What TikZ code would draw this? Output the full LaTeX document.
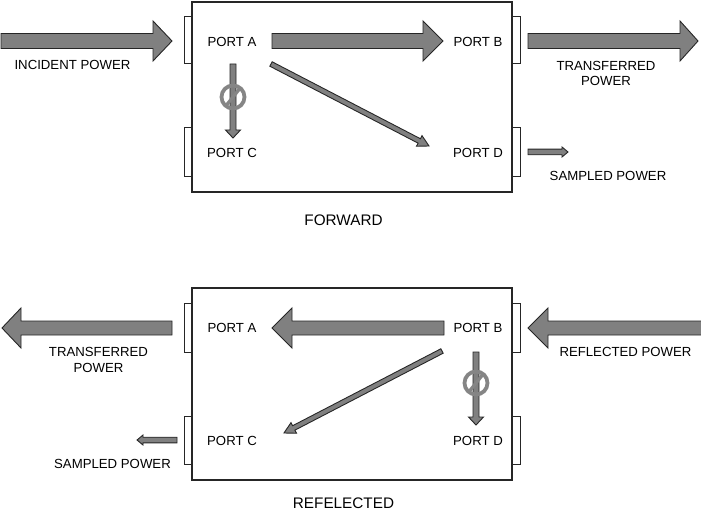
\documentclass[tikz,border=0pt]{standalone}
\usepackage{fontspec}
\setmainfont{Liberation Sans}
\usetikzlibrary{calc}
\definecolor{arrfill}{HTML}{808080}
\definecolor{edgec}{HTML}{262626}
\definecolor{symgray}{HTML}{858585}
\tikzset{
  arrowshape/.style={fill=arrfill, draw=edgec, line width=0.9pt, line join=miter},
  coupler/.style={draw=edgec, line width=1.1pt, fill=white, minimum width=320pt, minimum height=190pt, inner sep=0pt},
  tab/.style={draw=edgec, line width=1pt, fill=white},
  portlbl/.style={font=\fontsize{13.2}{15.5}\selectfont, inner sep=0pt},
  lbl/.style={font=\fontsize{13.2}{15.5}\selectfont, inner sep=0pt, align=center},
  title/.style={font=\fontsize{15.3}{18}\selectfont, inner sep=0pt},
  blockring/.style={circle, draw=symgray, line width=3.8pt, minimum size=23pt, inner sep=0pt},
  blockslash/.style={draw=symgray, line width=3.2pt}
}
% from, to, shaft half width, head half width, head length
\newcommand\blockarrow[5]{%
  \coordinate (ba-p) at ($(#2)!#5!(#1)$);
  \filldraw[arrowshape] ($(#1)!#3!90:(#2)$) -- ($(ba-p)!#3!-90:(#1)$) -- ($(ba-p)!#4!-90:(#1)$) -- (#2) -- ($(ba-p)!#4!90:(#1)$) -- ($(ba-p)!#3!90:(#1)$) -- ($(#1)!#3!-90:(#2)$) -- cycle;}
\begin{document}
\begin{tikzpicture}[x=1pt, y=-1pt]
\useasboundingbox (0,0) rectangle (701,513);
\clip (0,0) rectangle (701,513);

% ================= FORWARD =================
\draw[tab] (184,17) rectangle (192,64);
\draw[tab] (184,128) rectangle (192,177);
\draw[tab] (512,17) rectangle (520,64);
\draw[tab] (512,128) rectangle (520,177);
\node[coupler] (fwd) at (352,97) {};

\node[portlbl] (fA) at (232,41.5) {PORT A};
\node[portlbl] (fB) at (478,41.5) {PORT B};
\node[portlbl] (fC) at (232,153) {PORT C};
\node[portlbl] (fD) at (478,153) {PORT D};

\coordinate (fin0) at (1,41);   \coordinate (fin1) at (172,41);
\coordinate (fab0) at (272,41); \coordinate (fab1) at (443,41);
\coordinate (ftr0) at (528,41); \coordinate (ftr1) at (698,41);
\coordinate (fsm0) at (528,152);\coordinate (fsm1) at (568,152);
\coordinate (fad0) at (271,64); \coordinate (fad1) at (429,146);
\coordinate (fac0) at (233,64); \coordinate (fac1) at (233,138);

\blockarrow{fin0}{fin1}{7.5pt}{20pt}{19pt}
\blockarrow{fab0}{fab1}{7.5pt}{20pt}{20pt}
\blockarrow{ftr0}{ftr1}{7.5pt}{20pt}{18pt}
\blockarrow{fsm0}{fsm1}{2.8pt}{5pt}{6pt}
\blockarrow{fad0}{fad1}{2.5pt}{6pt}{11pt}
\blockarrow{fac0}{fac1}{3pt}{7.5pt}{8pt}
\node[blockring] (fblk) at (233,97) {};
\draw[blockslash] ($(fblk.center)+(-6.5,8)$) -- ($(fblk.center)+(6.5,-8)$);

\node[lbl] at (72.5,65) {INCIDENT POWER};
\node[lbl] at (606,73.5) {TRANSFERRED\\POWER};
\node[lbl] at (608,175.5) {SAMPLED POWER};
\node[title] at (343.5,220) {FORWARD};

% ================= REFLECTED =================
\draw[tab] (184,303) rectangle (192,352);
\draw[tab] (184,416) rectangle (192,464);
\draw[tab] (512,303) rectangle (520,352);
\draw[tab] (512,416) rectangle (520,464);
\node[coupler, minimum height=192pt] (rev) at (352,384) {};

\node[portlbl] (rA) at (232,328) {PORT A};
\node[portlbl] (rB) at (478,328) {PORT B};
\node[portlbl] (rC) at (232,440.5) {PORT C};
\node[portlbl] (rD) at (478,440.5) {PORT D};

\coordinate (rba0) at (444,328); \coordinate (rba1) at (272,328);
\coordinate (rtr0) at (172,328); \coordinate (rtr1) at (2,328);
\coordinate (rrf0) at (702,328); \coordinate (rrf1) at (528,328);
\coordinate (rsm0) at (177,440); \coordinate (rsm1) at (137,440);
\coordinate (rbc0) at (442,351); \coordinate (rbc1) at (284,433);
\coordinate (rbd0) at (476,352); \coordinate (rbd1) at (476,425);

\blockarrow{rba0}{rba1}{7pt}{20pt}{20pt}
\blockarrow{rtr0}{rtr1}{7pt}{20pt}{19pt}
\blockarrow{rrf0}{rrf1}{7pt}{20pt}{20pt}
\blockarrow{rsm0}{rsm1}{2.8pt}{5pt}{6pt}
\blockarrow{rbc0}{rbc1}{2.5pt}{6pt}{11pt}
\blockarrow{rbd0}{rbd1}{3pt}{7.5pt}{8pt}
\node[blockring] (rblk) at (476,383) {};
\draw[blockslash] ($(rblk.center)+(-6.5,8)$) -- ($(rblk.center)+(6.5,-8)$);

\node[lbl] at (98.5,360) {TRANSFERRED\\POWER};
\node[lbl] at (112.5,464) {SAMPLED POWER};
\node[lbl] at (625.5,352) {REFLECTED POWER};
\node[title] at (343.5,503.5) {REFELECTED};
\end{tikzpicture}
\end{document}
